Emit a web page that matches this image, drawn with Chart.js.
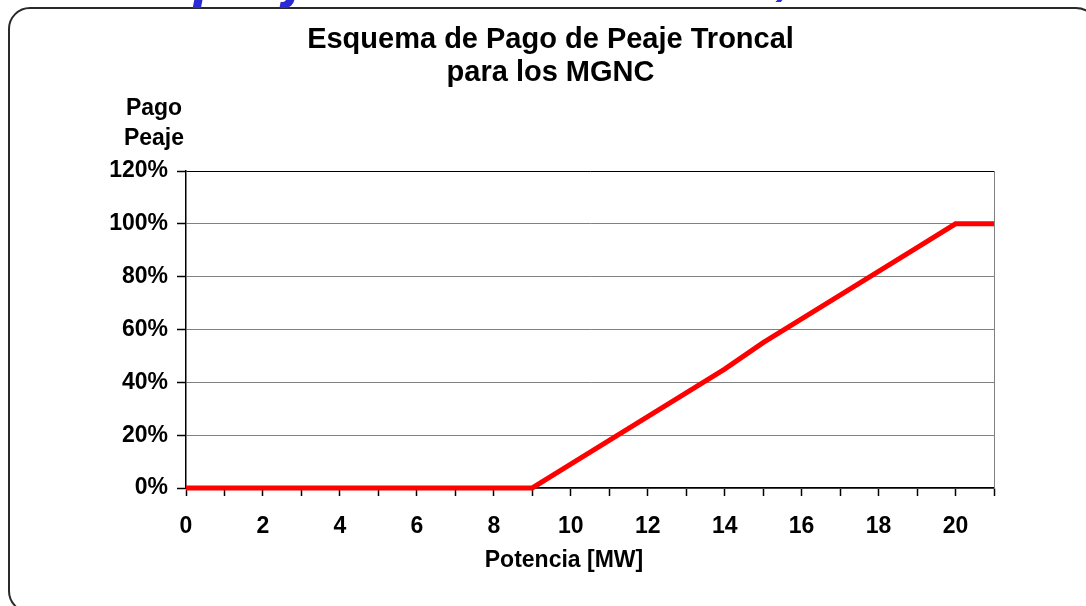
<!DOCTYPE html>
<html>
<head>
<meta charset="utf-8">
<script src="https://cdn.jsdelivr.net/npm/chart.js@4.4.1/dist/chart.umd.min.js"></script>
<style>
  html, body { margin: 0; padding: 0; background: #fff; }
  #wrap { position: relative; width: 1086px; height: 606px; overflow: hidden; background: #fff; }
  #frame { position: absolute; left: 8px; top: 7px; width: 1090px; height: 606px; border: 2px solid #2a2a2a; border-radius: 22px; box-sizing: border-box; }
  #c { position: absolute; left: 0; top: 0; }
  .txt { position: absolute; font-family: "Liberation Sans", Arial, sans-serif; font-weight: bold; color: #000; font-size: 23px; line-height: 30px; text-align: center; white-space: nowrap; }
  .frag { position: absolute; font-family: "Liberation Sans", Arial, sans-serif; font-weight: bold; font-style: italic; color: #2b2bd6; font-size: 60px; line-height: 60px; white-space: nowrap; }
</style>
</head>
<body>
<div id="wrap">
  <div id="frame"></div>
  <canvas id="c" width="1086" height="606"></canvas>
  <span class="frag" style="left:194px; top:-54px;">p</span>
  <span class="frag" style="left:286px; top:-54px;">j</span>
  <span class="frag" style="left:776px; top:-57px;">,</span>
  <div class="txt" style="left:114px; top:92px; width:80px;">Pago<br>Peaje</div>
  <div class="txt" style="left:464px; top:544px; width:200px;">Potencia [MW]</div>
</div>
<script>
// ---- data ----
const potenciaMW = [0, 1, 2, 3, 4, 5, 6, 7, 8, 9, 10, 11, 12, 13, 14, 15, 16, 17, 18, 19, 20, 21];
const pagoPeaje  = [0, 0, 0, 0, 0, 0, 0, 0, 0, 0, 9, 18, 27, 36, 45, 55, 64, 73, 82, 91, 100, 100];
const yTicks = [0, 20, 40, 60, 80, 100, 120];
const xLabelTicks = [0, 2, 4, 6, 8, 10, 12, 14, 16, 18, 20];
const titleLines = ['Esquema de Pago de Peaje Troncal', 'para los MGNC'];

const FONT = '"Liberation Sans", Arial, sans-serif';
const points = potenciaMW.map((x, i) => ({ x: x, y: pagoPeaje[i] }));

new Chart(document.getElementById('c'), {
  type: 'line',
  data: {
    datasets: [{
      data: points,
      borderColor: '#ff0000',
      borderWidth: 5,
      pointRadius: 0,
      fill: false,
      tension: 0,
      clip: 6
    }]
  },
  options: {
    responsive: false,
    animation: false,
    layout: { padding: { top: 23, left: 15, right: 0, bottom: 0 } },
    plugins: {
      legend: { display: false },
      tooltip: { enabled: false },
      title: {
        display: true,
        text: titleLines,
        color: '#000',
        font: { family: FONT, size: 29, weight: 'bold', lineHeight: 33 / 29 },
        padding: { top: 0, bottom: 82 }
      }
    },
    scales: {
      x: {
        type: 'linear',
        min: 0, max: 21,
        afterFit: s => { s.height = 118; },
        afterBuildTicks: s => { s.ticks = potenciaMW.map(v => ({ value: v })); },
        ticks: {
          stepSize: 1,
          autoSkip: false,
          maxRotation: 0,
          padding: 17,
          color: '#000',
          font: { family: FONT, size: 23, weight: 'bold' },
          callback: v => (xLabelTicks.includes(v) ? String(v) : '')
        },
        grid: { drawOnChartArea: false, tickLength: 8, tickColor: '#000', tickWidth: 1.5 },
        border: { color: '#000', width: 1.5 }
      },
      y: {
        min: 0, max: 120,
        afterFit: s => { s.width = 171; },
        afterBuildTicks: s => { s.ticks = yTicks.map(v => ({ value: v })); },
        ticks: {
          stepSize: 20,
          padding: 9,
          color: '#000',
          font: { family: FONT, size: 23, weight: 'bold' },
          callback: v => v + '%'
        },
        grid: {
          color: ctx => (ctx.tick && ctx.tick.value === 120 ? '#000' : '#808080'),
          lineWidth: 1,
          tickLength: 9,
          tickColor: '#000',
          tickWidth: 1.5
        },
        border: { color: '#000', width: 1.5 }
      },
      yR: {
        position: 'right',
        min: 0, max: 120,
        afterFit: s => { s.width = 92; },
        ticks: { display: false },
        grid: { display: false, drawTicks: false },
        border: { display: true, color: '#808080', width: 1 }
      }
    }
  }
});
</script>
</body>
</html>
